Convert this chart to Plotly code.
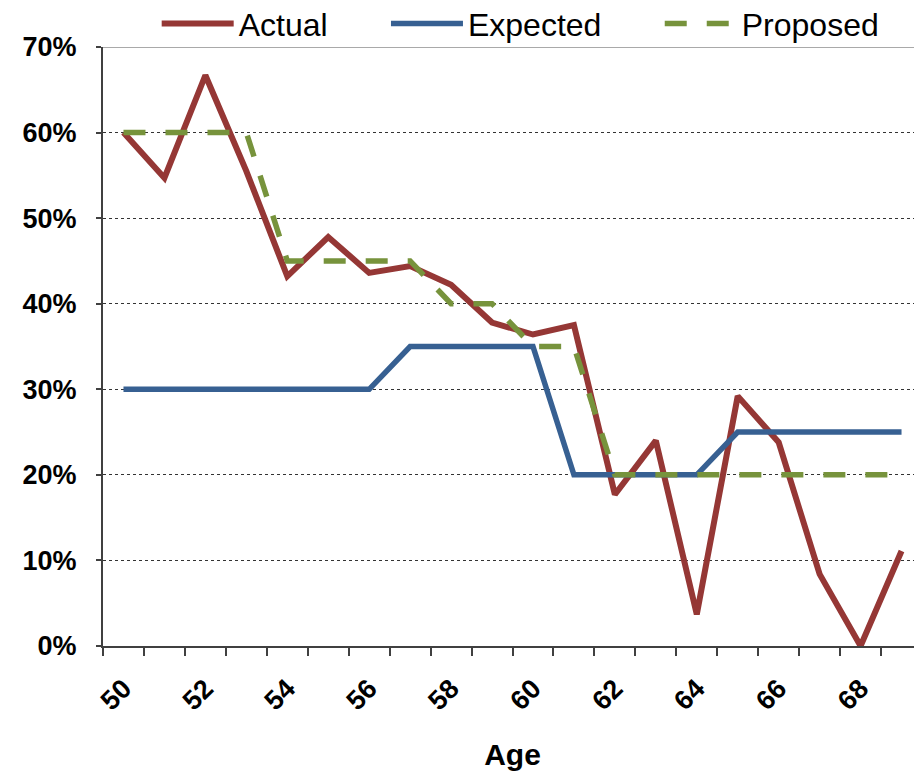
import plotly.graph_objects as go

ages = list(range(50, 70))
actual = [0.600, 0.547, 0.667, 0.555, 0.432, 0.478, 0.436, 0.444, 0.422, 0.378,
          0.364, 0.375, 0.177, 0.240, 0.037, 0.292, 0.238, 0.084, 0.000, 0.111]
expected = [0.30, 0.30, 0.30, 0.30, 0.30, 0.30, 0.30, 0.35, 0.35, 0.35,
            0.35, 0.20, 0.20, 0.20, 0.20, 0.25, 0.25, 0.25, 0.25, 0.25]
proposed = [0.60, 0.60, 0.60, 0.60, 0.45, 0.45, 0.45, 0.45, 0.40, 0.40,
            0.35, 0.35, 0.20, 0.20, 0.20, 0.20, 0.20, 0.20, 0.20, 0.20]
tick_ages = [50, 52, 54, 56, 58, 60, 62, 64, 66, 68]
y_ticks = [0, 0.1, 0.2, 0.3, 0.4, 0.5, 0.6, 0.7]

FONT = "Liberation Sans, Arial, sans-serif"
AXIS = "#404040"
PAD = "&nbsp;" * 6

fig = go.Figure()
fig.add_trace(go.Scatter(x=ages, y=actual, name="Actual" + PAD, mode="lines",
                         line=dict(color="#953735", width=6)))
fig.add_trace(go.Scatter(x=ages, y=expected, name="Expected" + PAD, mode="lines",
                         line=dict(color="#376092", width=5.5)))
fig.add_trace(go.Scatter(x=ages, y=proposed, name="Proposed", mode="lines",
                         line=dict(color="#77933C", width=5.5, dash="22px,20px")))

fig.add_shape(type="line", xref="paper", yref="y", x0=0, x1=1, y0=0.7, y1=0.7,
              line=dict(color="#8c8c8c", width=1.5), layer="above")

fig.update_layout(
    width=914, height=763,
    margin=dict(l=95, r=0, t=39, b=125, autoexpand=False),
    paper_bgcolor="white", plot_bgcolor="white",
    font=dict(family=FONT, color="black"),
    showlegend=True,
    legend=dict(orientation="h", x=0.51, xanchor="center", y=0.993, yanchor="bottom",
                font=dict(size=32, family=FONT), itemwidth=72,
                bgcolor="rgba(0,0,0,0)", tracegroupgap=0),
    xaxis=dict(
        range=[49.5, 69.5],
        tickmode="array", tickvals=tick_ages, ticktext=[str(a) for a in tick_ages],
        ticks="", tickangle=-45, ticklabelstandoff=14,
        tickfont=dict(size=27, family=FONT, weight="bold"),
        showgrid=False, zeroline=False,
        showline=True, linecolor=AXIS, linewidth=2,
        minor=dict(tick0=49.5, dtick=1, ticks="outside", ticklen=8,
                   tickcolor=AXIS, tickwidth=1.5, showgrid=False),
        title=dict(text="<b>Age</b>", font=dict(size=30, family=FONT), standoff=36),
    ),
    yaxis=dict(
        range=[0, 0.7], tickmode="array", tickvals=y_ticks, tickformat=".0%",
        ticks="outside", ticklen=5, tickcolor=AXIS, tickwidth=1.5,
        ticklabelstandoff=14,
        tickfont=dict(size=27, family=FONT, weight="bold"),
        showgrid=True, gridcolor="#333333", gridwidth=1, griddash="dot",
        zeroline=False, showline=True, linecolor=AXIS, linewidth=2,
    ),
)

fig.write_html("out.html")
